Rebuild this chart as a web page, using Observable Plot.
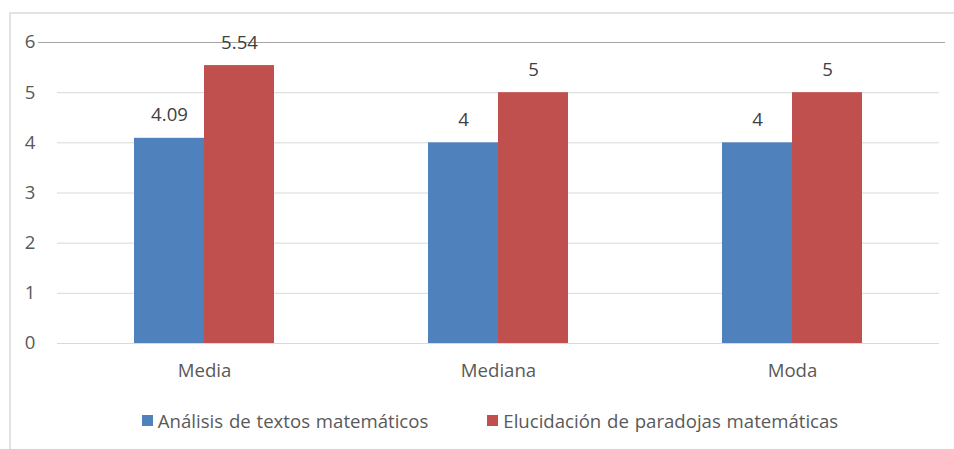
<!DOCTYPE html>
<html>
<head>
<meta charset="utf-8">
<script src="https://cdn.jsdelivr.net/npm/d3@7"></script>
<script src="https://cdn.jsdelivr.net/npm/@observablehq/plot@0.6"></script>
<style>
  html, body { margin: 0; padding: 0; background: #fff; overflow: hidden; }
  #wrap { position: relative; width: 954px; height: 449px; font-family: "Open Sans", sans-serif; }
  #frame { position: absolute; left: 9px; top: 12px; width: 960px; height: 460px; border: 2px solid #e3e3e3; box-sizing: border-box; pointer-events: none; }
  #legend { height: 50px; display: flex; justify-content: center; align-items: center; gap: 59px; font-size: 18.6px; color: #595959; word-spacing: 1px; padding-left: 26px; }
  .item { display: flex; align-items: center; }
  .sw { width: 11px; height: 11px; margin-right: 5px; }
</style>
</head>
<body>
<div id="wrap">
  <div id="frame"></div>
  <div id="chart"></div>
  <div id="legend"></div>
</div>
<script>
const categories = ["Media", "Mediana", "Moda"];
const seriesNames = ["Análisis de textos matemáticos", "Elucidación de paradojas matemáticas"];
const analisis = [4.09, 4, 4];
const elucidacion = [5.54, 5, 5];
const yTicks = [0, 1, 2, 3, 4, 5, 6];
const colors = ["#4F81BD", "#C0504D"];

const data = categories.flatMap((c, i) => [
  {category: c, series: seriesNames[0], value: analisis[i]},
  {category: c, series: seriesNames[1], value: elucidacion[i]}
]);

const chart = Plot.plot({
  width: 954,
  height: 395,
  marginLeft: 56,
  marginRight: 15,
  marginTop: 42,
  marginBottom: 52,
  style: {fontSize: "18.6px", fontFamily: "Open Sans, sans-serif", color: "#595959", background: "transparent"},
  fx: {domain: categories, padding: 0, label: null, axis: null},
  x: {domain: seriesNames, paddingInner: 0, paddingOuter: 1.1, axis: null},
  y: {domain: [0, 6], axis: null},
  color: {domain: seriesNames, range: colors},
  marks: [
    Plot.gridY(yTicks, {stroke: "#d9d9d9", strokeOpacity: 1}),
    Plot.ruleY([6], {stroke: "#a6a6a6", insetLeft: -19, insetRight: -6}),
    Plot.barY(data, {fx: "category", x: "series", y: "value", fill: "series"}),
    Plot.text(data, {fx: "category", x: "series", y: "value", text: d => String(d.value), dy: -23, fill: "#404040", fontSize: 18.6}),
    Plot.axisY(yTicks, {tickSize: 0, tickPadding: 22, label: null, tickFormat: d => String(d)}),
    Plot.axisFx({anchor: "bottom", tickSize: 0, tickPadding: 20, label: null})
  ]
});
document.getElementById("chart").appendChild(chart);

const legend = document.getElementById("legend");
seriesNames.forEach((name, i) => {
  const item = document.createElement("div");
  item.className = "item";
  const sw = document.createElement("div");
  sw.className = "sw";
  sw.style.background = colors[i];
  const label = document.createElement("span");
  label.textContent = name;
  item.appendChild(sw);
  item.appendChild(label);
  legend.appendChild(item);
});
</script>
</body>
</html>
